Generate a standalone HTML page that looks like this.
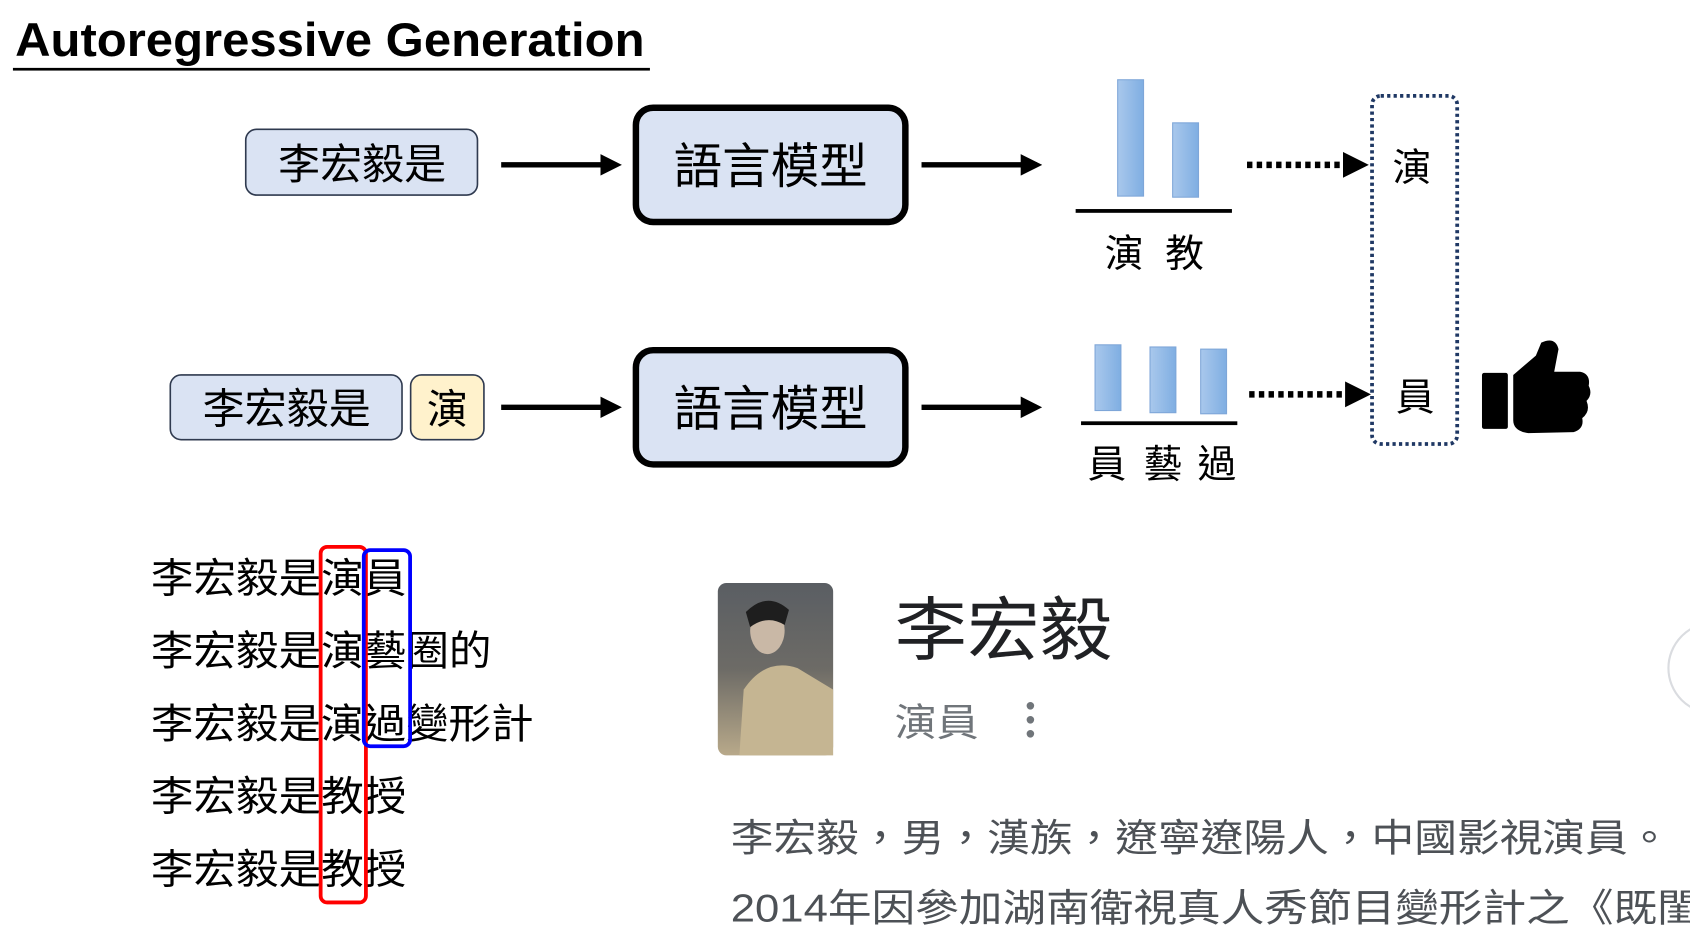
<!DOCTYPE html>
<html><head><meta charset="utf-8"><style>
html,body{margin:0;padding:0;background:#fff;width:1690px;height:931px;overflow:hidden}
svg{display:block}
.cjk{font-family:"Liberation Sans","Noto Sans CJK TC",sans-serif}
</style></head><body>
<svg width="1690" height="931" viewBox="0 0 1568 864" preserveAspectRatio="none" xmlns="http://www.w3.org/2000/svg">
<defs>
<linearGradient id="bg" x1="0" y1="0" x2="1" y2="0"><stop offset="0" stop-color="#a9c8ec"/><stop offset="1" stop-color="#7faee2"/></linearGradient>
<marker id="ah" markerWidth="4" markerHeight="4" refX="3" refY="2" orient="auto" markerUnits="strokeWidth"><path d="M0,0 L4,2 L0,4 z" fill="#000"/></marker>
<linearGradient id="ph" x1="0" y1="0" x2="0" y2="1"><stop offset="0" stop-color="#5a5e63"/><stop offset="0.5" stop-color="#6d6b66"/><stop offset="1" stop-color="#b8a98a"/></linearGradient>
</defs>
<text x="14" y="52" font-family="Liberation Sans" font-weight="bold" font-size="44" textLength="584" lengthAdjust="spacingAndGlyphs">Autoregressive Generation</text>
<rect x="12" y="63" width="591" height="2.5" fill="#000"/>

<!-- row 1 -->
<rect x="228" y="120" width="215" height="61" rx="10" fill="#dae3f3" stroke="#2f3a4f" stroke-width="1.5"/>
<text class="cjk" x="336" y="166" font-size="39" text-anchor="middle">李宏毅是</text>
<line x1="465" y1="153" x2="572" y2="153" stroke="#000" stroke-width="5" marker-end="url(#ah)"/>
<rect x="590" y="100" width="250" height="106" rx="16" fill="#dae3f3" stroke="#000" stroke-width="6"/>
<text class="cjk" x="715" y="170" font-size="45" text-anchor="middle">語言模型</text>
<line x1="855" y1="153" x2="962" y2="153" stroke="#000" stroke-width="5" marker-end="url(#ah)"/>
<rect x="1037" y="74" width="24" height="108" fill="url(#bg)" stroke="#7ea6d8"/>
<rect x="1088" y="114" width="24" height="69" fill="url(#bg)" stroke="#7ea6d8"/>
<rect x="998" y="194" width="145" height="3.5" fill="#000"/>
<text class="cjk" x="1043" y="248" font-size="36" text-anchor="middle">演</text>
<text class="cjk" x="1099" y="248" font-size="36" text-anchor="middle">教</text>
<line x1="1157" y1="153" x2="1264" y2="153" stroke="#000" stroke-width="6" stroke-dasharray="5,4" marker-end="url(#ah)"/>
<rect x="1273" y="89" width="79" height="323" rx="8" fill="none" stroke="#1f3864" stroke-width="3.5" stroke-dasharray="3,3"/>
<text class="cjk" x="1310" y="168" font-size="36" text-anchor="middle">演</text>
<text class="cjk" x="1313" y="381" font-size="36" text-anchor="middle">員</text>

<!-- row 2 -->
<rect x="158" y="348" width="215" height="60" rx="10" fill="#dae3f3" stroke="#2f3a4f" stroke-width="1.5"/>
<text class="cjk" x="266" y="393" font-size="39" text-anchor="middle">李宏毅是</text>
<rect x="381" y="348" width="68" height="60" rx="10" fill="#fff2cc" stroke="#2f3a4f" stroke-width="1.5"/>
<text class="cjk" x="415" y="393" font-size="38" text-anchor="middle">演</text>
<line x1="465" y1="378" x2="572" y2="378" stroke="#000" stroke-width="5" marker-end="url(#ah)"/>
<rect x="590" y="325" width="250" height="106" rx="16" fill="#dae3f3" stroke="#000" stroke-width="6"/>
<text class="cjk" x="715" y="395" font-size="45" text-anchor="middle">語言模型</text>
<line x1="855" y1="378" x2="962" y2="378" stroke="#000" stroke-width="5" marker-end="url(#ah)"/>
<rect x="1016" y="320" width="24" height="61" fill="url(#bg)" stroke="#7ea6d8"/>
<rect x="1067" y="322" width="24" height="61" fill="url(#bg)" stroke="#7ea6d8"/>
<rect x="1114" y="324" width="24" height="60" fill="url(#bg)" stroke="#7ea6d8"/>
<rect x="1003" y="391" width="145" height="3.5" fill="#000"/>
<text class="cjk" x="1027" y="443" font-size="36" text-anchor="middle">員</text>
<text class="cjk" x="1079" y="443" font-size="36" text-anchor="middle">藝</text>
<text class="cjk" x="1129" y="443" font-size="36" text-anchor="middle">過</text>
<line x1="1159" y1="366" x2="1266" y2="366" stroke="#000" stroke-width="6" stroke-dasharray="5,4" marker-end="url(#ah)"/>

<!-- thumbs up -->
<rect x="1375" y="346" width="24" height="52" rx="2" fill="#000"/>
<path d="M1404,348 L1425,330 L1430,318 Q1443,312 1446,324 L1442,345 L1466,345 Q1476,347 1474,358 Q1478,366 1472,372 Q1476,382 1468,388 Q1470,398 1460,401 L1418,402 Q1404,400 1404,390 Z" fill="#000"/>

<!-- bottom-left lines -->
<g class="cjk" font-size="38" fill="#000">
<text x="140" y="550" textLength="237" lengthAdjust="spacingAndGlyphs">李宏毅是演員</text>
<text x="140" y="617" textLength="316" lengthAdjust="spacingAndGlyphs">李宏毅是演藝圈的</text>
<text x="140" y="685" textLength="355" lengthAdjust="spacingAndGlyphs">李宏毅是演過變形計</text>
<text x="140" y="752" textLength="237" lengthAdjust="spacingAndGlyphs">李宏毅是教授</text>
<text x="140" y="820" textLength="237" lengthAdjust="spacingAndGlyphs">李宏毅是教授</text>
</g>
<rect x="297.5" y="507.5" width="42" height="330" rx="6" fill="none" stroke="#ff0000" stroke-width="3.5"/>
<rect x="337.5" y="510.5" width="43" height="182" rx="6" fill="none" stroke="#0000ff" stroke-width="3.5"/>

<!-- right card -->
<rect x="666" y="541" width="107" height="160" rx="8" fill="url(#ph)"/>
<ellipse cx="712" cy="585" rx="16" ry="22" fill="#c9b8a6"/>
<path d="M692,568 Q712,548 732,566 L728,580 Q712,570 696,582 Z" fill="#1e1e1e"/>
<path d="M686,701 L690,640 Q710,610 740,620 L773,640 L773,701 Z" fill="#c5b592"/>
<text class="cjk" x="830" y="607" font-size="64" fill="#202124" textLength="202" lengthAdjust="spacingAndGlyphs">李宏毅</text>
<text class="cjk" x="830" y="683" font-size="36" fill="#70757a" textLength="78" lengthAdjust="spacingAndGlyphs">演員</text>
<circle cx="956" cy="655" r="3.5" fill="#70757a"/><circle cx="956" cy="668" r="3.5" fill="#70757a"/><circle cx="956" cy="681" r="3.5" fill="#70757a"/>
<text class="cjk" x="678" y="790" font-size="36" fill="#4d5156" textLength="872" lengthAdjust="spacingAndGlyphs">李宏毅，男，漢族，遼寧遼陽人，中國影視演員。</text>
<text class="cjk" x="678" y="855" font-size="36" fill="#4d5156" textLength="900" lengthAdjust="spacingAndGlyphs">2014年因參加湖南衛視真人秀節目變形計之《既閨</text>
<circle cx="1590" cy="620" r="42" fill="none" stroke="#dadce0" stroke-width="2"/>
</svg>
</body></html>
